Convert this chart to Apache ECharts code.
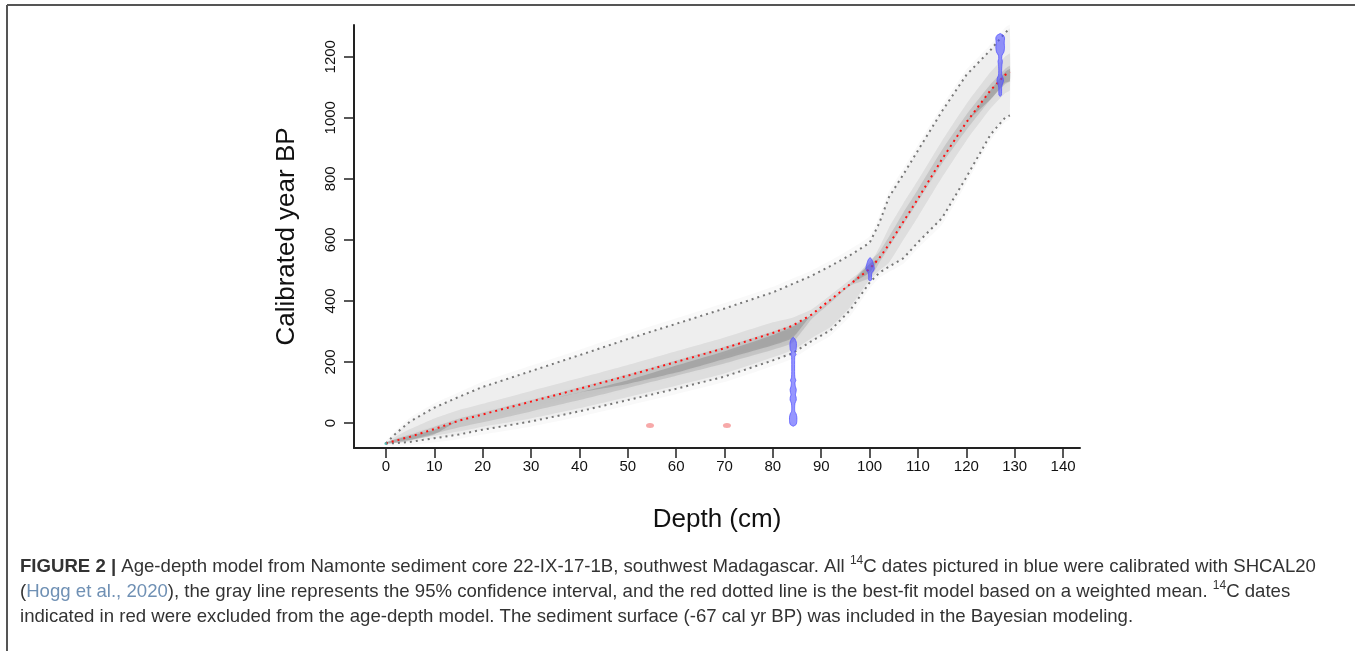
<!DOCTYPE html>
<html>
<head>
<meta charset="utf-8">
<title>Age-depth model</title>
<script src="https://cdn.jsdelivr.net/npm/echarts@6/dist/echarts.min.js"></script>
<style>
    html, body { margin: 0; padding: 0; background: #fff; }
    #main { width: 1355px; height: 651px; }
</style>
</head>
<body>
<div id="main"></div>
<script>
// depth grid (cm) shared by model lines and the grey cloud
var depthGrid = [0, 2, 5, 10, 15, 20, 30, 40, 50, 60, 70, 80, 84, 88, 92, 96, 100, 102, 104, 107, 110, 115, 120, 125, 128, 129];
// best-fit (weighted mean) and 95% bounds, cal yr BP
var meanAge = [-67, -58, -45, -20, 7, 28, 70, 112, 155, 200, 245, 295, 318, 355, 405, 455, 505, 540, 585, 660, 735, 865, 985, 1090, 1140, 1150];
var upper95 = [-67, -35, 5, 50, 85, 118, 170, 222, 275, 325, 375, 428, 455, 482, 515, 550, 590, 655, 740, 815, 893, 1022, 1140, 1222, 1278, 1293];
var lower95 = [-67, -66, -62, -50, -38, -22, 5, 38, 75, 112, 152, 205, 228, 268, 305, 370, 460, 492, 512, 540, 592, 672, 805, 945, 1000, 1008];
// grey probability cloud levels
var hazeHi = [-60, -25, 18, 65, 100, 135, 188, 240, 293, 343, 393, 446, 473, 500, 533, 570, 612, 678, 760, 835, 912, 1040, 1158, 1240, 1295, 1304];
var hazeLo = [-75, -76, -74, -64, -53, -38, -12, 20, 57, 94, 134, 187, 210, 250, 287, 350, 440, 475, 495, 522, 572, 650, 785, 925, 985, 995];
var coreHi = [-67, -45, -20, 15, 42, 63, 105, 147, 190, 235, 280, 330, 345, 372, 420, 470, 520, 575, 640, 720, 795, 925, 1045, 1150, 1200, 1210];
var coreLo = [-67, -62, -55, -42, -28, -12, 15, 48, 85, 122, 162, 215, 238, 278, 315, 380, 470, 500, 525, 600, 675, 805, 925, 1030, 1080, 1090];
var ridgeHi = [-67, -52, -38, -12, 14, 34, 75, 117, 160, 205, 250, 300, 322, 352, 405, 458, 530, 560, 610, 690, 765, 895, 1010, 1110, 1160, 1170];
var ridgeLo = [-67, -64, -55, -35, -15, 2, 38, 75, 115, 155, 195, 240, 262, 340, 395, 450, 475, 525, 575, 650, 725, 850, 960, 1060, 1110, 1120];
var darkHi = [-62, -54, -42, -22, 7, 28, 65, 100, 140, 188, 235, 288, 315, 355, 405, 455, 522, 540, 585, 660, 735, 865, 985, 1090, 1150, 1160];
var darkLo = [-70, -66, -58, -38, 7, 28, 65, 100, 128, 165, 210, 255, 278, 355, 405, 455, 492, 540, 585, 660, 735, 865, 985, 1060, 1115, 1120];

// calibrated 14C dates (blue): depth and [age, relative density]
var dateDepths = [84.2, 100.1, 127.0];
var dateProfiles = [
    [[281, 0], [275, 0.5], [265, 0.85], [255, 0.9], [240, 0.8], [232, 0.45], [225, 0.8], [218, 0.45], [200, 0.4], [160, 0.4], [147, 0.5], [140, 0.75], [132, 0.5], [120, 0.6], [110, 0.85], [100, 0.75], [92, 0.6], [85, 0.8], [75, 0.85], [65, 0.5], [50, 0.4], [38, 0.45], [30, 0.8], [20, 1.0], [5, 1.0], [-5, 0.8], [-11, 0]],
    [[542, 0], [535, 0.5], [525, 0.8], [512, 1.1], [505, 1.15], [498, 0.9], [492, 0.5], [485, 0.4], [468, 0.35], [466, 0]],
    [[1276, 0], [1270, 0.9], [1262, 1.2], [1245, 1.1], [1230, 1.2], [1215, 1.0], [1205, 0.5], [1195, 0.4], [1185, 0.6], [1175, 0.5], [1160, 0.4], [1140, 0.45], [1130, 0.8], [1120, 0.9], [1110, 0.6], [1100, 0.4], [1075, 0.35], [1070, 0]]
];
// excluded dates (red) and sediment surface
var excludedDates = [[54.6, -8.5], [70.5, -8.5]];
var surfaceDate = [[0, -67]];

var depthTicks = [0, 10, 20, 30, 40, 50, 60, 70, 80, 90, 100, 110, 120, 130, 140];
var ageTicks = [0, 200, 400, 600, 800, 1000, 1200];

(function () {
    var myChart = echarts.init(document.getElementById('main'));
    var font = "'Liberation Sans', Arial, Helvetica, sans-serif";

    function pairs(ys) {
        return depthGrid.map(function (d, i) { return [d, ys[i]]; });
    }

    // filled band between two curves on the depth grid
    function band(lo, hi, fill, blur) {
        return {
            type: 'custom',
            silent: true,
            z: 1,
            data: [[depthGrid[0], lo[0]]],
            renderItem: function (params, api) {
                var pts = [];
                for (var i = 0; i < depthGrid.length; i++) pts.push(api.coord([depthGrid[i], hi[i]]));
                for (var j = depthGrid.length - 1; j >= 0; j--) pts.push(api.coord([depthGrid[j], lo[j]]));
                return {
                    type: 'polygon',
                    shape: { points: pts, smooth: 0.15 },
                    style: { fill: fill, shadowBlur: blur, shadowColor: fill }
                };
            }
        };
    }

    // violin shape for one calibrated date
    function dateShape(k) {
        var depth = dateDepths[k];
        var prof = dateProfiles[k];
        var halfW = 0.75; // cm for density 1
        return {
            type: 'custom',
            silent: true,
            z: 4,
            data: [[depth, prof[0][0]]],
            renderItem: function (params, api) {
                var pts = [];
                for (var i = 0; i < prof.length; i++) pts.push(api.coord([depth + prof[i][1] * halfW, prof[i][0]]));
                for (var j = prof.length - 1; j >= 0; j--) pts.push(api.coord([depth - prof[j][1] * halfW, prof[j][0]]));
                return {
                    type: 'polygon',
                    shape: { points: pts, smooth: 0.2 },
                    style: { fill: 'rgba(80,80,255,0.6)', stroke: 'rgba(80,80,255,0.75)', lineWidth: 1 }
                };
            }
        };
    }

    var option = {
        backgroundColor: '#fff',
        animation: false,
        grid: {
            left: 354,
            right: 275,
            top: 25,
            bottom: 203
        },
        xAxis: {
            type: 'value',
            min: -6.6,
            max: 143.5,
            name: 'Depth (cm)',
            nameLocation: 'middle',
            nameGap: 59,
            nameTextStyle: { fontFamily: font, fontSize: 26, color: '#111' },
            splitLine: { show: false },
            axisLine: { onZero: false, lineStyle: { color: '#222', width: 2 } },
            axisTick: { customValues: depthTicks, length: 10, lineStyle: { color: '#222', width: 1.5 } },
            axisLabel: { customValues: depthTicks, margin: 11, fontFamily: font, fontSize: 15, color: '#111' }
        },
        yAxis: {
            type: 'value',
            min: -82,
            max: 1304,
            name: 'Calibrated year BP',
            nameLocation: 'middle',
            nameRotate: 90,
            nameGap: 54,
            nameTextStyle: { fontFamily: font, fontSize: 26, color: '#111' },
            splitLine: { show: false },
            axisLine: { onZero: false, lineStyle: { color: '#222', width: 2 } },
            axisTick: { customValues: ageTicks, length: 10, lineStyle: { color: '#222', width: 1.5 } },
            axisLabel: {
                customValues: ageTicks, rotate: 90, margin: 16, fontFamily: font, fontSize: 15, color: '#111',
                formatter: function (v) { return String(v); }
            }
        },
        series: [
            band(hazeLo, hazeHi, 'rgba(0,0,0,0.025)', 12),
            band(lower95, upper95, 'rgba(0,0,0,0.045)', 10),
            band(coreLo, coreHi, 'rgba(0,0,0,0.065)', 10),
            band(ridgeLo, ridgeHi, 'rgba(0,0,0,0.1)', 10),
            band(darkLo, darkHi, 'rgba(0,0,0,0.14)', 8),
            {
                type: 'line', silent: true, z: 3, showSymbol: false,
                data: pairs(upper95),
                lineStyle: { color: '#777', width: 2, type: [2, 4] }
            },
            {
                type: 'line', silent: true, z: 3, showSymbol: false,
                data: pairs(lower95),
                lineStyle: { color: '#777', width: 2, type: [2, 4] }
            },
            {
                type: 'line', silent: true, z: 3, showSymbol: false,
                data: pairs(meanAge),
                lineStyle: { color: '#ff1010', width: 2, type: [2, 4] }
            },
            dateShape(0),
            dateShape(1),
            dateShape(2),
            {
                type: 'scatter', silent: true, z: 5,
                data: excludedDates,
                symbol: 'circle',
                symbolSize: [8, 5],
                itemStyle: { color: 'rgba(240,90,90,0.65)' }
            },
            {
                type: 'scatter', silent: true, z: 5,
                data: surfaceDate,
                symbolSize: 3,
                itemStyle: { color: '#3fb7b0' }
            }
        ],
        graphic: [
            { type: 'line', shape: { x1: 7, y1: 5, x2: 1355, y2: 5 }, style: { stroke: '#555', lineWidth: 2 } },
            { type: 'line', shape: { x1: 7, y1: 5, x2: 7, y2: 651 }, style: { stroke: '#555', lineWidth: 2 } },
            {
                type: 'text', x: 20, y: 567,
                style: {
                    text: '{b|FIGURE 2 |} Age-depth model from Namonte sediment core 22-IX-17-1B, southwest Madagascar. All {sup|14}C dates pictured in blue were calibrated with SHCAL20',
                    font: '18.6px ' + font, fill: '#333', verticalAlign: 'middle',
                    rich: {
                        b: { fontWeight: 'bold', fontSize: 18.6, fontFamily: font, fill: '#333', lineHeight: 24 },
                        sup: { fontSize: 12, fontFamily: font, verticalAlign: 'top', lineHeight: 24, fill: '#333' }
                    }
                }
            },
            {
                type: 'text', x: 20, y: 592,
                style: {
                    text: '({link|Hogg et al., 2020}), the gray line represents the 95% confidence interval, and the red dotted line is the best-fit model based on a weighted mean. {sup|14}C dates',
                    font: '18.6px ' + font, fill: '#333', verticalAlign: 'middle',
                    rich: {
                        link: { fontSize: 18.6, fontFamily: font, fill: '#6f90b4', lineHeight: 24 },
                        sup: { fontSize: 12, fontFamily: font, verticalAlign: 'top', lineHeight: 24, fill: '#333' }
                    }
                }
            },
            {
                type: 'text', x: 20, y: 617,
                style: {
                    text: 'indicated in red were excluded from the age-depth model. The sediment surface (-67 cal yr BP) was included in the Bayesian modeling.',
                    font: '18.6px ' + font, fill: '#333', verticalAlign: 'middle'
                }
            }
        ]
    };
    myChart.setOption(option);
    window.addEventListener('resize', function () {
        myChart.resize();
    });
})();
</script>
</body>
</html>
